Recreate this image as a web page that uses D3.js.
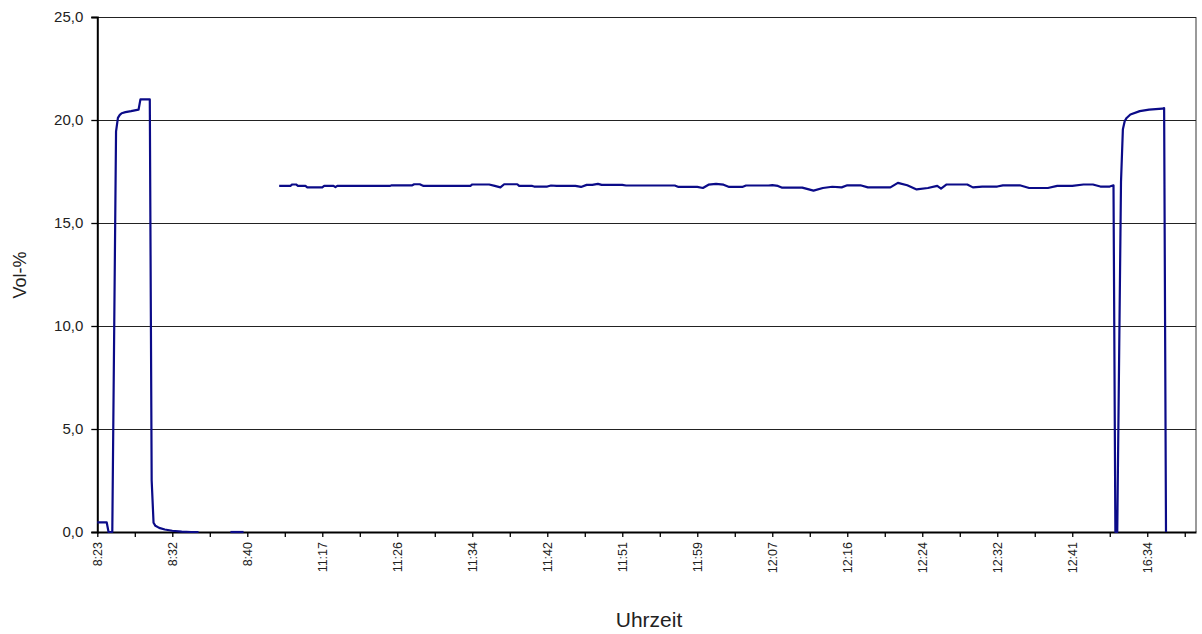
<!DOCTYPE html>
<html><head><meta charset="utf-8">
<script src="https://cdn.jsdelivr.net/npm/d3@7"></script>
<style>
html,body{margin:0;padding:0;background:#fff;}
svg{display:block;font-family:"Liberation Sans",Arial,sans-serif;}
</style></head>
<body>
<svg id="chart" width="1202" height="634"></svg>
<script>
// Time labels on the category axis (one every 40 samples)
const timeLabels = ["8:23","8:32","8:40","11:17","11:26","11:34","11:42","11:51","11:59","12:07","12:16","12:24","12:32","12:41","16:34"];
const sampleCount = 586;
const labelEvery = 40;
const tickEvery = 20;
const yTicks = [0,5,10,15,20,25];

// Segment 1: first calibration peak (sample index, Vol-%)
const seg1Index = [0,5,6,8,10,11,12,13,15,18,20,22,23,28,29,30,31,33,36,40,45,50,54];
const seg1Value = [0.47,0.47,0,0,19.45,20.1,20.25,20.33,20.38,20.43,20.47,20.5,21.0,21.0,2.5,0.45,0.3,0.2,0.12,0.06,0.02,0,0];
// Segment 2: short zero stretch
const seg2Index = [71,78];
const seg2Value = [0,0];
// Segment 3: measurement plateau and final calibration peak
const seg3Index = [97,103,104,106,107,111,112,120,121,126,127,128,156,157,168,169,172,174,199,200,209,212,215,217,224,225,232,233,240,242,245,255,258,261,264,267,269,280,282,308,310,320,323,326,330,334,337,344,346,358,360,363,365,376,382,387,392,397,400,407,411,423,427,432,437,443,448,450,453,464,467,472,480,483,492,497,507,512,520,526,531,535,540,542,543,544,546,547,548,549,551,556,561,568,569,570];
const seg3Value = [16.80,16.80,16.87,16.87,16.80,16.80,16.73,16.73,16.80,16.80,16.74,16.80,16.80,16.83,16.83,16.88,16.88,16.80,16.80,16.87,16.87,16.80,16.73,16.88,16.88,16.80,16.80,16.77,16.77,16.82,16.80,16.80,16.75,16.85,16.85,16.90,16.85,16.85,16.82,16.82,16.75,16.75,16.70,16.86,16.90,16.86,16.75,16.75,16.82,16.82,16.84,16.80,16.72,16.72,16.57,16.70,16.76,16.73,16.83,16.83,16.73,16.73,16.95,16.83,16.63,16.70,16.80,16.67,16.87,16.87,16.73,16.77,16.77,16.83,16.83,16.70,16.70,16.80,16.80,16.87,16.87,16.77,16.77,16.83,0,0,17.0,19.55,19.95,20.1,20.27,20.43,20.5,20.55,20.58,0];

const svg = d3.select("#chart");
const L = 97.3, R = 1196, T = 17, B = 532;

const x = d3.scaleLinear().domain([0, sampleCount]).range([L, R]);
const y = d3.scaleLinear().domain([0, 25]).range([B, T]);

// plot border (gray right edge)
svg.append("line").attr("x1", R).attr("x2", R).attr("y1", T).attr("y2", B)
  .attr("stroke", "#9a9a9a").attr("stroke-width", 2);

// gridlines
svg.append("g").selectAll("line").data(yTicks.filter(d => d > 0)).join("line")
  .attr("x1", L).attr("x2", R)
  .attr("y1", d => Math.round(y(d)) + 0.5).attr("y2", d => Math.round(y(d)) + 0.5)
  .attr("stroke", "#222").attr("stroke-width", 1.2);

// Y axis
const yAxis = d3.axisLeft(y).tickValues(yTicks).tickSize(6).tickPadding(8)
  .tickFormat(d => d3.format(".1f")(d).replace(".", ","));
const gy = svg.append("g").attr("transform", `translate(${L},0)`).call(yAxis);
gy.select(".domain").attr("stroke", "#000").attr("stroke-width", 2);
gy.selectAll(".tick line").attr("stroke", "#000").attr("stroke-width", 1.3);
gy.selectAll(".tick text").attr("font-size", 15).attr("fill", "#222")
  .attr("font-family", "Liberation Sans, Arial, sans-serif");

// X axis (category style)
const tickVals = d3.range(0, sampleCount, tickEvery);
const xAxis = d3.axisBottom(x).tickValues(tickVals).tickSize(5).tickSizeOuter(0)
  .tickFormat(d => d % labelEvery === 0 ? (timeLabels[d / labelEvery] || "") : "");
const gx = svg.append("g").attr("transform", `translate(0,${B})`).call(xAxis);
gx.select(".domain").attr("stroke", "#000").attr("stroke-width", 2);
gx.selectAll(".tick line").attr("stroke", "#000").attr("stroke-width", 1.3);
gx.selectAll(".tick text")
  .attr("font-size", 12.5).attr("fill", "#222")
  .attr("font-family", "Liberation Sans, Arial, sans-serif")
  .attr("text-anchor", "end")
  .attr("transform", "rotate(-90)")
  .attr("x", -10).attr("y", 0).attr("dy", "0.35em");

// data lines
const line = d3.line().x(d => x(d[0])).y(d => y(d[1]));
const segments = [
  d3.zip(seg1Index, seg1Value),
  d3.zip(seg2Index, seg2Value),
  d3.zip(seg3Index, seg3Value)
];
svg.append("g").selectAll("path").data(segments).join("path")
  .attr("d", line).attr("fill", "none")
  .attr("stroke", "#0b0b88").attr("stroke-width", 2.2)
  .attr("stroke-linejoin", "round");

// axis titles
svg.append("text").attr("transform", "translate(26,275) rotate(-90)")
  .attr("text-anchor", "middle").attr("font-size", 18).attr("fill", "#222")
  .text("Vol-%");
svg.append("text").attr("x", 649).attr("y", 627)
  .attr("text-anchor", "middle").attr("font-size", 21).attr("fill", "#222")
  .text("Uhrzeit");
</script>
</body></html>
